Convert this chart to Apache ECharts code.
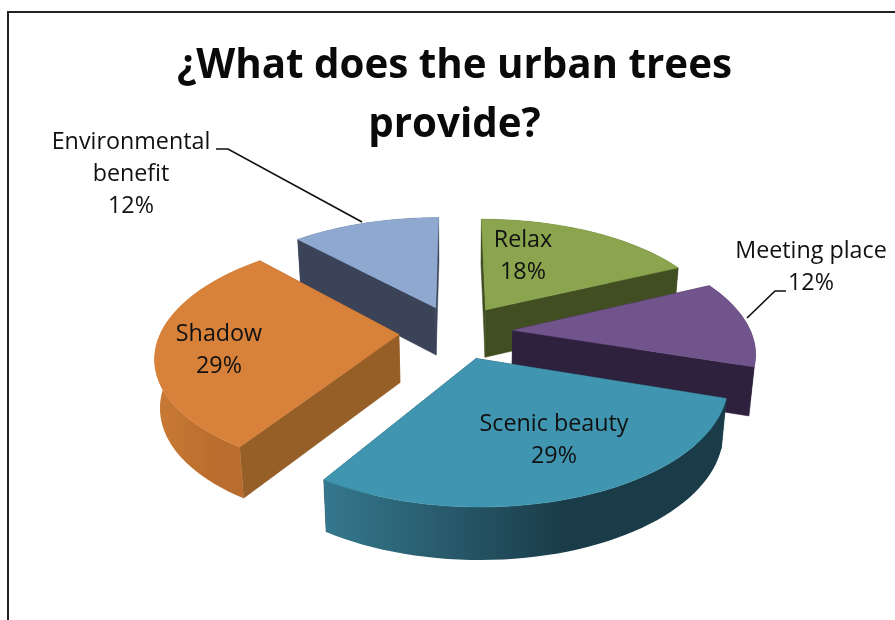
<!DOCTYPE html>
<html>
<head>
<meta charset="utf-8">
<style>html,body{margin:0;padding:0;background:#fff;overflow:hidden}#c{width:895px;height:620px}</style>
<script src="https://cdn.jsdelivr.net/npm/echarts@6/dist/echarts.min.js"></script>
</head>
<body>
<div id="c"></div>
<script>
// data
const categories = ['Relax', 'Meeting place', 'Scenic beauty', 'Shadow', 'Environmental benefit'];
const shares = [18, 12, 29, 29, 12];
const titleLines = '¿What does the urban trees\nprovide?';

// style
const topColors = ['#8aa54d', '#72548c', '#4096b0', '#d8813a', '#8fa8d0'];
const radialColors = ['#414e22', '#2d213d', '#1c3f4d', '#965f28', '#3b4358'];
const wallStops = [
  ['#414e22', '#414e22'],
  ['#2d213d', '#2d213d'],
  ['#35788e', '#1a3c49'],
  ['#c97a35', '#b86c2d'],
  ['#3b4358', '#3b4358']
];
const labelText = ['Relax\n18%', 'Meeting place\n12%', 'Scenic beauty\n29%', 'Shadow\n29%', 'Environmental\nbenefit\n12%'];
const labelAt = [[523, 256], [811, 267], [554, 440], [219, 350], [131, 174.5]];

// projection of the tilted pie
const CX = 456, CY = 332, RX = 238, RY = 113, P = 0.17, EXPLODE = 0.24, THICK = 48;
function project(px, pz, down) {
  const s = 1 / (1 + P * pz);
  const h = THICK * (1 + (s - 1) * 0.4);
  const sx = down ? 1 - 0.018 : 1;
  return [CX + RX * px * s * sx, CY - RY * pz * s + (down ? h : 0)];
}

const total = shares.reduce((a, b) => a + b, 0);
const starts = [];
shares.reduce((acc, v, i) => { starts[i] = acc; return acc + v; }, 0);

function renderItem(params, api) {
  const i = params.dataIndex;
  const a0 = starts[i] / total * Math.PI * 2;
  const a1 = (starts[i] + api.value(0)) / total * Math.PI * 2;
  const mid = (a0 + a1) / 2;
  const ox = EXPLODE * Math.sin(mid), oz = EXPLODE * Math.cos(mid);
  const N = 48;
  const arcTop = [], arcBot = [];
  for (let k = 0; k <= N; k++) {
    const t = a0 + (a1 - a0) * k / N;
    const x = ox + Math.sin(t), z = oz + Math.cos(t);
    arcTop.push(project(x, z, false));
    arcBot.push(project(x, z, true));
  }
  const apexTop = project(ox, oz, false), apexBot = project(ox, oz, true);
  const base = Math.round((1 - Math.cos(mid)) * 10) * 10;
  const poly = (points, fill, z2) => ({
    type: 'polygon', z2: z2,
    shape: { points: points },
    style: { fill: fill, stroke: typeof fill === 'string' ? fill : null, lineWidth: 0.5 }
  });
  const stops = wallStops[i];
  const wallFill = new echarts.graphic.LinearGradient(0, 0, 1, 0, [
    { offset: 0, color: stops[0] },
    { offset: 0.6, color: stops[1] },
    { offset: 1, color: stops[1] }
  ]);
  const children = [
    poly([apexTop, arcTop[0], arcBot[0], apexBot], radialColors[i], base),
    poly([apexTop, arcTop[N], arcBot[N], apexBot], radialColors[i], base + 1),
    poly(arcTop.concat(arcBot.slice().reverse()), wallFill, base + 2),
    poly([apexTop].concat(arcTop), topColors[i], base + 3),
    {
      type: 'text', z2: 500,
      style: {
        text: labelText[i], x: labelAt[i][0], y: labelAt[i][1],
        fill: '#111', font: '23.3px "Open Sans"', lineHeight: 32,
        align: 'center', verticalAlign: 'middle'
      }
    }
  ];
  return { type: 'group', children: children };
}

const chart = echarts.init(document.getElementById('c'), null, { renderer: 'canvas' });
chart.setOption({
  animation: false,
  backgroundColor: '#fff',
  title: {
    text: titleLines, left: 449.5, top: 32, textAlign: 'center',
    textStyle: { fontFamily: 'Open Sans', fontWeight: 'bold', fontSize: 40.3, lineHeight: 59, color: '#0a0a0a' }
  },
  graphic: [
    { type: 'rect', silent: true, z: -1, shape: { x: 8, y: 12, width: 1000, height: 800 }, style: { fill: '#fff', stroke: '#222', lineWidth: 2 } },
    { type: 'polyline', silent: true, shape: { points: [[216, 149], [228, 149], [362, 222]] }, style: { stroke: '#111', lineWidth: 1.7, fill: null } },
    { type: 'polyline', silent: true, shape: { points: [[747, 318], [775, 291], [786, 291]] }, style: { stroke: '#111', lineWidth: 1.7, fill: null } }
  ],
  series: [{
    type: 'custom',
    coordinateSystem: 'none',
    renderItem: renderItem,
    data: shares.map((v, i) => ({ name: categories[i], value: [v] }))
  }]
});
</script>
</body>
</html>
